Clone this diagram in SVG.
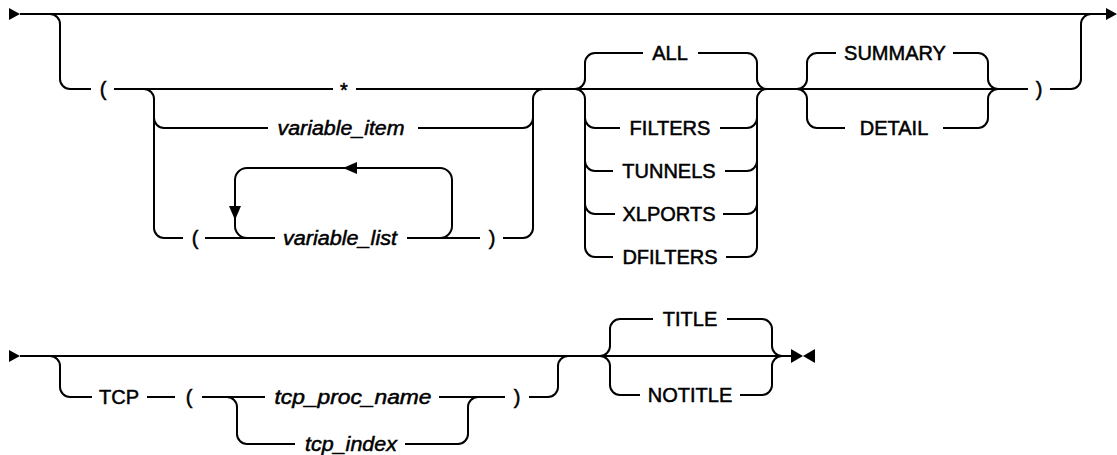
<svg xmlns="http://www.w3.org/2000/svg" width="1117" height="455" viewBox="0 0 1117 455">
<style>
.l{fill:none;stroke:#000;stroke-width:2}
.a{fill:#000;stroke:none}
.t{font-family:"Liberation Sans",Arial,sans-serif;font-size:20px;fill:#000;text-anchor:middle;stroke:#000;stroke-width:0.5}
.i{font-style:italic}
</style>
<rect width="1117" height="455" fill="#fff"/>
<g id="connectors">
<!-- row 1 -->
<path class="l" d="M20,14 H1108"/>
<polygon class="a" points="9,8 20,14 9,20"/>
<polygon class="a" points="1106,8 1117,14 1106,20"/>
<path class="l" d="M40,14 H50 a10,10 0 0 1 10,10 V79 a10,10 0 0 0 10,10 H91"/>
<path class="l" d="M114,89 H333"/>
<path class="l" d="M356,89 H1028"/>
<path class="l" d="M144,89 a10,10 0 0 1 10,10 V228 a10,10 0 0 0 10,10 H183"/>
<path class="l" d="M154,118 a10,10 0 0 0 10,10 H268"/>
<path class="l" d="M418,128 H523 a10,10 0 0 0 10,-10"/>
<path class="l" d="M205,238 H275"/>
<path class="l" d="M407,238 H480"/>
<path class="l" d="M503,238 H523 a10,10 0 0 0 10,-10 V99 a10,10 0 0 1 10,-10"/>
<path class="l" d="M440,238 a12,12 0 0 0 12,-12 V180 a12,12 0 0 0 -12,-12 H247 a12,12 0 0 0 -12,12 V226 a12,12 0 0 0 12,12"/>
<polygon class="a" points="343,168 357,162 357,174"/>
<polygon class="a" points="229,206 241,206 235,220"/>
<!-- ALL group -->
<path class="l" d="M575,89 a10,10 0 0 0 10,-10 V63 a10,10 0 0 1 10,-10 H643"/>
<path class="l" d="M698,53 H747 a10,10 0 0 1 10,10 V79 a10,10 0 0 0 10,10"/>
<path class="l" d="M575,89 a10,10 0 0 1 10,10 V247 a10,10 0 0 0 10,10 H613"/>
<path class="l" d="M585,118 a10,10 0 0 0 10,10 H620"/>
<path class="l" d="M585,161 a10,10 0 0 0 10,10 H613"/>
<path class="l" d="M585,204 a10,10 0 0 0 10,10 H615"/>
<path class="l" d="M726,257 H747 a10,10 0 0 0 10,-10 V99 a10,10 0 0 1 10,-10"/>
<path class="l" d="M720,128 H747 a10,10 0 0 0 10,-10"/>
<path class="l" d="M725,171 H747 a10,10 0 0 0 10,-10"/>
<path class="l" d="M723,214 H747 a10,10 0 0 0 10,-10"/>
<!-- SUMMARY group -->
<path class="l" d="M797,89 a10,10 0 0 0 10,-10 V63 a10,10 0 0 1 10,-10 H836"/>
<path class="l" d="M953,53 H978 a10,10 0 0 1 10,10 V79 a10,10 0 0 0 10,10"/>
<path class="l" d="M797,89 a10,10 0 0 1 10,10 V118 a10,10 0 0 0 10,10 H845"/>
<path class="l" d="M943,128 H978 a10,10 0 0 0 10,-10 V99 a10,10 0 0 1 10,-10"/>
<path class="l" d="M1050,89 H1071 a10,10 0 0 0 10,-10 V24 a10,10 0 0 1 10,-10"/>
<!-- row 2 -->
<path class="l" d="M20,356 H792"/>
<polygon class="a" points="9,350 20,356 9,362"/>
<polygon class="a" points="791,349 803,356 791,363"/>
<polygon class="a" points="815,349 803,356 815,363"/>
<path class="l" d="M40,356 H50 a10,10 0 0 1 10,10 V387 a10,10 0 0 0 10,10 H92"/>
<path class="l" d="M147,397 H175"/>
<path class="l" d="M202,397 H265"/>
<path class="l" d="M439,397 H505"/>
<path class="l" d="M529,397 H548 a10,10 0 0 0 10,-10 V366 a10,10 0 0 1 10,-10"/>
<path class="l" d="M227,397 a10,10 0 0 1 10,10 V434 a10,10 0 0 0 10,10 H295"/>
<path class="l" d="M405,444 H458 a10,10 0 0 0 10,-10 V407 a10,10 0 0 1 10,-10"/>
<path class="l" d="M600,356 a10,10 0 0 0 10,-10 V329 a10,10 0 0 1 10,-10 H653"/>
<path class="l" d="M727,319 H762 a10,10 0 0 1 10,10 V346 a10,10 0 0 0 10,10"/>
<path class="l" d="M600,356 a10,10 0 0 1 10,10 V385 a10,10 0 0 0 10,10 H640"/>
<path class="l" d="M740,395 H762 a10,10 0 0 0 10,-10 V366 a10,10 0 0 1 10,-10"/>
</g>
<g id="n-lparen1"><text class="t" x="103" y="96">(</text></g>
<g id="n-star"><text class="t" x="344" y="97">*</text></g>
<g id="n-variable_item"><text class="t i" x="341" y="135" textLength="127" lengthAdjust="spacingAndGlyphs">variable_item</text></g>
<g id="n-lparen2"><text class="t" x="195" y="245">(</text></g>
<g id="n-variable_list"><text class="t i" x="340" y="245" textLength="114" lengthAdjust="spacingAndGlyphs">variable_list</text></g>
<g id="n-rparen2"><text class="t" x="492" y="245">)</text></g>
<g id="n-all"><text class="t" x="670" y="60">ALL</text></g>
<g id="n-filters"><text class="t" x="670" y="135">FILTERS</text></g>
<g id="n-tunnels"><text class="t" x="669" y="178">TUNNELS</text></g>
<g id="n-xlports"><text class="t" x="669" y="221">XLPORTS</text></g>
<g id="n-dfilters"><text class="t" x="670" y="264">DFILTERS</text></g>
<g id="n-summary"><text class="t" x="895" y="60">SUMMARY</text></g>
<g id="n-detail"><text class="t" x="894" y="135">DETAIL</text></g>
<g id="n-rparen1"><text class="t" x="1039" y="96">)</text></g>
<g id="n-tcp"><text class="t" x="119" y="404">TCP</text></g>
<g id="n-lparen3"><text class="t" x="189" y="404">(</text></g>
<g id="n-tcp_proc_name"><text class="t i" x="353" y="404" textLength="157" lengthAdjust="spacingAndGlyphs">tcp_proc_name</text></g>
<g id="n-tcp_index"><text class="t i" x="351" y="451" textLength="92" lengthAdjust="spacingAndGlyphs">tcp_index</text></g>
<g id="n-rparen3"><text class="t" x="517" y="404">)</text></g>
<g id="n-title"><text class="t" x="690" y="326">TITLE</text></g>
<g id="n-notitle"><text class="t" x="690" y="402">NOTITLE</text></g>
</svg>
